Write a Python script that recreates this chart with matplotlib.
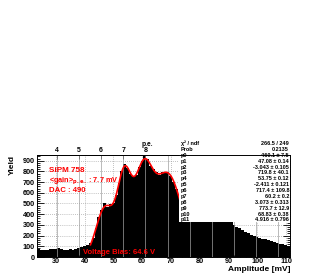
import numpy as np
import matplotlib
matplotlib.use('Agg')
import matplotlib.pyplot as plt
from matplotlib.patches import Rectangle

plt.rcParams['font.family'] = ['Liberation Sans', 'DejaVu Sans']
plt.rcParams['font.weight'] = 'bold'

# amplitude histogram, 1 mV bins starting at 23.4 mV
bin_lo = 23.4
bin_width = 1.0
counts = [72, 65, 70, 68, 74, 78, 72, 80, 76, 70,
          66, 72, 68, 78, 82, 95, 105, 112, 135, 175,
          270, 370, 440, 500, 470, 495, 505, 575, 690, 800,
          870, 835, 775, 760, 770, 840, 900, 940, 915, 855,
          820, 790, 770, 790, 785, 795, 760, 705, 640, 560,
          520, 500, 480, 470, 455, 440, 430, 420, 410, 400,
          390, 380, 370, 365, 355, 350, 340, 330, 300, 285,
          270, 250, 235, 225, 210, 200, 190, 182, 170, 165,
          160, 150, 140, 135, 125, 118, 108, 100]

# fit (sum of 4 gaussians), parameters from the stat box
fit_amp = [460.1, 719.8, 717.4, 773.7]
fit_mean = [47.08, 53.75, 60.2, 68.83]
fit_sigma = [-3.043, -2.411, 3.073, 4.916]
fit_lo, fit_hi = 42.0, 73.8

# photo-electron axis on top
gain = 7.7
pedestal = -0.5
pe_ticks = [4, 5, 6, 7, 8]
pe_lines = [4, 5, 6, 7, 8, 9, 10, 11, 12, 13, 14]

stat_names = ['χ² / ndf', 'Prob', 'p0', 'p1', 'p2', 'p3', 'p4', 'p5',
              'p6', 'p7', 'p8', 'p9', 'p10', 'p11']
stat_vals = ['266.5 / 249', '0.2135', '460.1 ± 7.5', '47.08 ± 0.14',
             '-3.043 ± 0.105', '719.8 ± 40.1', '53.75 ± 0.12',
             '-2.411 ± 0.121', '717.4 ± 109.8', '60.2 ± 0.2',
             '3.073 ± 0.313', '773.7 ± 12.9', '68.83 ± 0.38',
             '4.916 ± 0.796']

W, H = 327, 273
fig = plt.figure(figsize=(W / 100, H / 100), dpi=100)
ax = fig.add_axes([37 / W, 16 / H, 253 / W, 102.3 / H])
ax.set_xlim(23.4, 111.4)
ax.set_ylim(0, 956)

# grid (under the histogram)
for y in range(100, 1000, 100):
    ax.axhline(y, color='#888888', lw=0.5, ls=(0, (1, 2)), zorder=0.5)
for x in range(30, 111, 10):
    ax.axvline(x, color='#888888', lw=0.5, ls=(0, (1, 2)), zorder=0.5)

edges = bin_lo + bin_width * np.arange(len(counts) + 1)
ax.stairs(counts, edges, fill=True, color='black', zorder=1)

# p.e. lines
for n in pe_lines:
    ax.axvline(pedestal + n * gain, color='#a0a0a0', lw=0.5, zorder=1.5)

xf = np.linspace(fit_lo, fit_hi, 400)
yf = np.zeros_like(xf)
for a, m, s in zip(fit_amp, fit_mean, fit_sigma):
    yf += a * np.exp(-0.5 * ((xf - m) / s) ** 2)
ax.plot(xf, yf, color='red', lw=1.2, zorder=1.8)

ax.set_xticks(range(30, 111, 10))
ax.set_yticks(range(0, 1000, 100))
ax.set_xticks(np.arange(24, 112, 2), minor=True)
ax.set_yticks(range(0, 960, 20), minor=True)
ax.tick_params(which='both', direction='in', right=True, top=False,
               labelsize=5.2, width=0.6)
ax.tick_params(axis='y', which='major', length=5, pad=1.5)
ax.tick_params(axis='y', which='minor', length=2.5)
ax.tick_params(axis='x', which='major', length=3, pad=1.0)
ax.tick_params(axis='x', which='minor', length=1.5)
for s in ax.spines.values():
    s.set_linewidth(0.7)

secax = ax.secondary_xaxis('top', functions=(lambda a: (a - pedestal) / gain,
                                              lambda p: pedestal + p * gain))
secax.set_xticks(pe_ticks)
secax.tick_params(direction='in', length=3, width=0.6, labelsize=5, pad=0.5)
secax.spines['top'].set_linewidth(0.7)

# red annotations
red = '#ff0000'
fig.text(49 / W, 1 - 170 / H, 'SiPM 758', color=red, fontsize=5.9,
         va='center', ha='left')
fig.text(49 / W, 1 - 181 / H, r'<gain>$_{\mathbf{p.e.}}$ : 7.7 mV', color=red,
         fontsize=5.3, va='center', ha='left')
fig.text(49 / W, 1 - 191 / H, 'DAC : 490', color=red, fontsize=5.6,
         va='center', ha='left')
fig.text(83 / W, 1 - 252 / H, 'Voltage Bias: 64.6 V', color=red, fontsize=5.5,
         va='center', ha='left', zorder=5)

fig.text(147 / W, 1 - 145 / H, 'p.e.', fontsize=4.8, ha='center', va='center')
fig.text(291 / W, 1 - 269.5 / H, 'Amplitude [mV]', fontsize=6.0,
         ha='right', va='center')
fig.text(12 / W, 1 - 155 / H, 'Yield', fontsize=6.0, rotation=90,
         ha='center', va='top')

# stat box
box = Rectangle((179 / W, 1 - 222 / H), 111 / W, 83 / H, transform=fig.transFigure,
                facecolor='white', edgecolor='none', zorder=2.2, clip_on=False)
ax.add_artist(box)
for i, (nm, vl) in enumerate(zip(stat_names, stat_vals)):
    yy = 1 - (143.5 + i * 5.88) / H
    fig.text(181 / W, yy, nm, fontsize=4.0, ha='left', va='center')
    fig.text(289 / W, yy, vl, fontsize=4.0, ha='right', va='center')

fig.savefig('out.png', dpi=100)
